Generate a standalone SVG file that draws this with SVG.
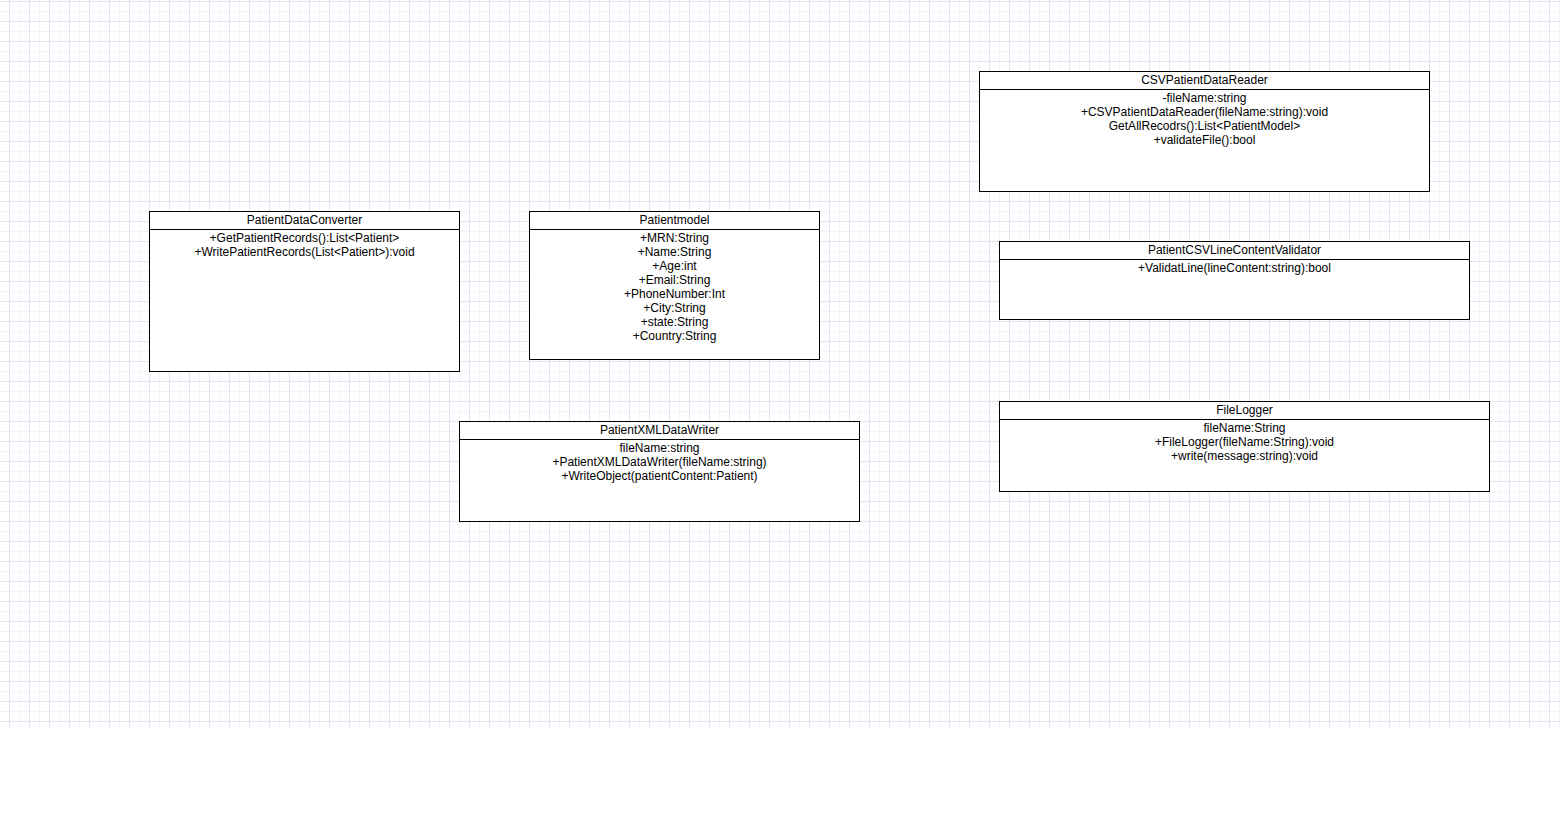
<svg xmlns="http://www.w3.org/2000/svg" width="1560" height="817" viewBox="0 0 1560 817">
  <style>
    .box { fill: #ffffff; stroke: #000000; stroke-width: 1; }
    .sep { stroke: #000000; stroke-width: 1; }
    text { font-family: "Liberation Sans", Arial, Helvetica, sans-serif; font-size: 12px; fill: #000000; text-anchor: middle; }
  </style>
  <defs>
    <pattern id="grid" x="0" y="0" width="20" height="20" patternUnits="userSpaceOnUse">
      <path d="M19.5 0 V20 M0 11.5 H20" stroke="#f3f1fa" stroke-width="1" fill="none"/>
      <path d="M9.5 0 V20 M0 1.5 H20" stroke="#e6e2f5" stroke-width="1" fill="none"/>
    </pattern>
  </defs>
  <rect x="0" y="0" width="1560" height="817" fill="#ffffff"/>
  <rect x="0" y="0" width="1560" height="728" fill="url(#grid)"/>

  <g id="connectors"></g>

  <g id="PatientDataConverter">
    <rect class="box" x="149.5" y="211.5" width="310" height="160"/>
    <line class="sep" x1="149.5" y1="229.5" x2="459.5" y2="229.5"/>
    <text x="304.5" y="224">PatientDataConverter</text>
    <text x="304.5" y="242">+GetPatientRecords():List&lt;Patient&gt;</text>
    <text x="304.5" y="256">+WritePatientRecords(List&lt;Patient&gt;):void</text>
  </g>

  <g id="Patientmodel">
    <rect class="box" x="529.5" y="211.5" width="290" height="148"/>
    <line class="sep" x1="529.5" y1="229.5" x2="819.5" y2="229.5"/>
    <text x="674.5" y="224">Patientmodel</text>
    <text x="674.5" y="242">+MRN:String</text>
    <text x="674.5" y="256">+Name:String</text>
    <text x="674.5" y="270">+Age:int</text>
    <text x="674.5" y="284">+Email:String</text>
    <text x="674.5" y="298">+PhoneNumber:Int</text>
    <text x="674.5" y="312">+City:String</text>
    <text x="674.5" y="326">+state:String</text>
    <text x="674.5" y="340">+Country:String</text>
  </g>

  <g id="CSVPatientDataReader">
    <rect class="box" x="979.5" y="71.5" width="450" height="120"/>
    <line class="sep" x1="979.5" y1="89.5" x2="1429.5" y2="89.5"/>
    <text x="1204.5" y="84">CSVPatientDataReader</text>
    <text x="1204.5" y="102">-fileName:string</text>
    <text x="1204.5" y="116">+CSVPatientDataReader(fileName:string):void</text>
    <text x="1204.5" y="130">GetAllRecodrs():List&lt;PatientModel&gt;</text>
    <text x="1204.5" y="144">+validateFile():bool</text>
  </g>

  <g id="PatientCSVLineContentValidator">
    <rect class="box" x="999.5" y="241.5" width="470" height="78"/>
    <line class="sep" x1="999.5" y1="259.5" x2="1469.5" y2="259.5"/>
    <text x="1234.5" y="254">PatientCSVLineContentValidator</text>
    <text x="1234.5" y="272">+ValidatLine(lineContent:string):bool</text>
  </g>

  <g id="PatientXMLDataWriter">
    <rect class="box" x="459.5" y="421.5" width="400" height="100"/>
    <line class="sep" x1="459.5" y1="439.5" x2="859.5" y2="439.5"/>
    <text x="659.5" y="434">PatientXMLDataWriter</text>
    <text x="659.5" y="452">fileName:string</text>
    <text x="659.5" y="466">+PatientXMLDataWriter(fileName:string)</text>
    <text x="659.5" y="480">+WriteObject(patientContent:Patient)</text>
  </g>

  <g id="FileLogger">
    <rect class="box" x="999.5" y="401.5" width="490" height="90"/>
    <line class="sep" x1="999.5" y1="419.5" x2="1489.5" y2="419.5"/>
    <text x="1244.5" y="414">FileLogger</text>
    <text x="1244.5" y="432">fileName:String</text>
    <text x="1244.5" y="446">+FileLogger(fileName:String):void</text>
    <text x="1244.5" y="460">+write(message:string):void</text>
  </g>
</svg>
